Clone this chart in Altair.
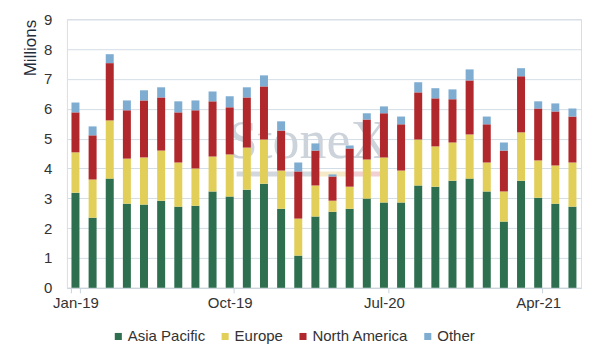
import altair as alt
import pandas as pd

months = ["Jan-19", "Feb-19", "Mar-19", "Apr-19", "May-19", "Jun-19", "Jul-19", "Aug-19", "Sep-19",
          "Oct-19", "Nov-19", "Dec-19", "Jan-20", "Feb-20", "Mar-20", "Apr-20", "May-20", "Jun-20",
          "Jul-20", "Aug-20", "Sep-20", "Oct-20", "Nov-20", "Dec-20", "Jan-21", "Feb-21", "Mar-21",
          "Apr-21", "May-21", "Jun-21"]

asia_pacific = [3.19, 2.35, 3.66, 2.82, 2.79, 2.92, 2.72, 2.75, 3.23, 3.06, 3.29, 3.49, 2.65, 1.08, 2.39,
                2.55, 2.65, 2.99, 2.86, 2.86, 3.43, 3.39, 3.59, 3.66, 3.23, 2.22, 3.59, 3.02, 2.82, 2.72]
europe = [1.35, 1.28, 1.95, 1.51, 1.58, 1.68, 1.48, 1.25, 1.17, 1.41, 1.41, 1.48, 1.28, 1.24, 1.04,
          0.37, 0.74, 1.31, 1.51, 1.07, 1.54, 1.35, 1.28, 1.48, 0.97, 1.01, 1.62, 1.25, 1.28, 1.48]
north_america = [1.34, 1.48, 1.92, 1.62, 1.91, 1.78, 1.68, 1.95, 1.85, 1.58, 1.68, 1.78, 1.34, 1.58, 1.17,
                 0.81, 1.28, 1.34, 1.48, 1.55, 1.58, 1.61, 1.45, 1.81, 1.28, 1.37, 1.88, 1.74, 1.81, 1.54]
other = [0.33, 0.30, 0.30, 0.33, 0.34, 0.34, 0.37, 0.33, 0.33, 0.37, 0.34, 0.37, 0.31, 0.30, 0.24,
         0.07, 0.10, 0.21, 0.23, 0.26, 0.34, 0.34, 0.33, 0.37, 0.26, 0.27, 0.27, 0.24, 0.27, 0.27]

series_names = ["Asia Pacific", "Europe", "North America", "Other"]
series_colors = ["#2e6f4f", "#e2cf5a", "#b1282c", "#7fadd1"]
label_months = ["Jan-19", "Oct-19", "Jul-20", "Apr-21"]
y_ticks = list(range(0, 10))

rows = []
for si, (name, vals) in enumerate(zip(series_names, [asia_pacific, europe, north_america, other])):
    for m, v in zip(months, vals):
        rows.append({"month": m, "region": name, "value": v, "idx": si})
df = pd.DataFrame(rows)

W, H = 515, 269
font = "Liberation Sans"

wm_text = alt.Chart(pd.DataFrame({"t": ["StoneX"]})).mark_text(
    font="Liberation Serif", fontSize=54, color="#cdd3da", align="center", baseline="alphabetic"
).encode(text="t:N", x=alt.value(242), y=alt.value(139))

wm_df = pd.DataFrame({"a": [0]})
wm_gray = alt.Chart(wm_df).mark_rule(color="#d3d8de", strokeWidth=5).encode(
    x=alt.value(170), x2=alt.value(253), y=alt.value(155))
wm_cream = alt.Chart(wm_df).mark_rule(color="#f5e9c8", strokeWidth=5).encode(
    x=alt.value(253), x2=alt.value(283), y=alt.value(155))
wm_pink = alt.Chart(wm_df).mark_rule(color="#f1d0d4", strokeWidth=5).encode(
    x=alt.value(283), x2=alt.value(316), y=alt.value(155))

bars = alt.Chart(df).mark_bar(size=8).encode(
    x=alt.X("month:N", sort=months, title=None,
            scale=alt.Scale(paddingInner=0.5, paddingOuter=0.25),
            axis=alt.Axis(values=label_months, labelAngle=0, labelFont=font, labelFontSize=15,
                          labelColor="#333333", labelPadding=3, tickBand="extent", tickExtra=False,
                          tickColor="#c8d3dc", tickSize=5, domainColor="#c8d3dc", grid=False)),
    y=alt.Y("value:Q", stack="zero", title="Millions",
            scale=alt.Scale(domain=[0, 9], nice=False),
            axis=alt.Axis(values=y_ticks, labelFont=font, labelFontSize=15, labelColor="#333333",
                          ticks=False, domain=False, labelPadding=15, gridColor="#d3dde6",
                          titleFont=font, titleFontSize=17, titleFontWeight="normal",
                          titleColor="#1f2d3d", titlePadding=4, titleAnchor="end")),
    color=alt.Color("region:N", sort=series_names,
                    scale=alt.Scale(domain=series_names, range=series_colors),
                    legend=alt.Legend(orient="none", legendX=44, legendY=310,
                                      direction="horizontal", title=None,
                                      symbolType="square", symbolSize=50, symbolStrokeWidth=0,
                                      labelFont=font, labelFontSize=15, labelColor="#333333",
                                      columnPadding=12, labelOffset=2)),
    order=alt.Order("idx:Q", sort="ascending"),
)

chart = alt.layer(wm_text, wm_gray, wm_cream, wm_pink, bars).properties(
    width=W, height=H,
    autosize=alt.AutoSizeParams(type="none"),
    padding={"left": 59, "top": 11, "right": 12, "bottom": 64},
).configure_view(stroke=None).configure(background="white")

chart.save("out.html", embed_options={"renderer": "svg", "actions": False})
